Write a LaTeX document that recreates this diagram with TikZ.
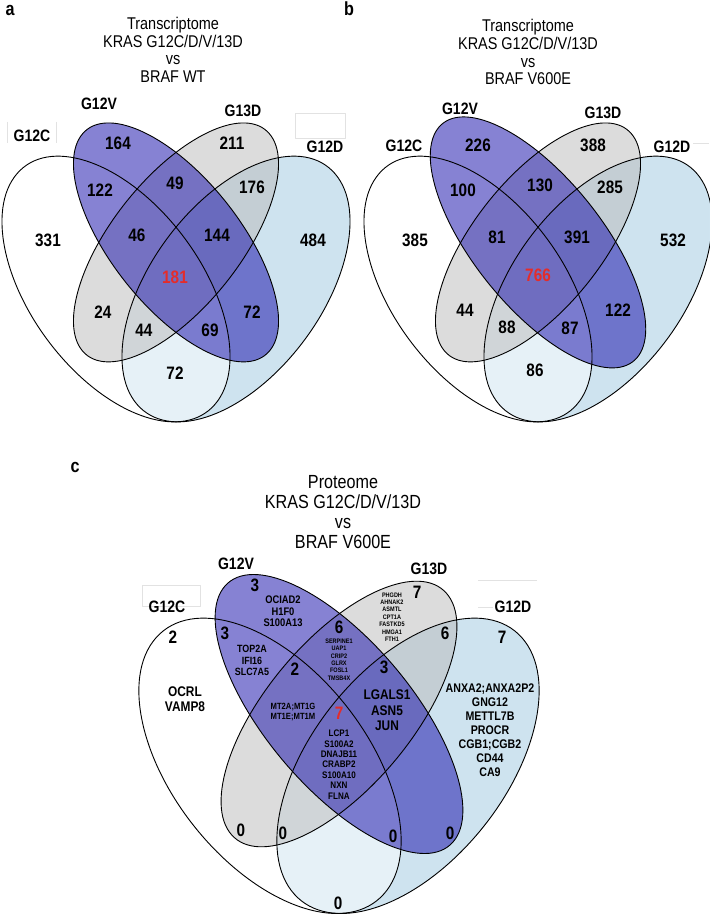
\documentclass[tikz,border=0pt]{standalone}
\usepackage{fontspec}
\usepackage{tikz}
\newfontfamily\narrowsans[FakeStretch=0.85]{Liberation Sans}

\definecolor{setV}{RGB}{15,7,169}
\definecolor{setG}{RGB}{187,187,187}
\definecolor{setD}{RGB}{159,201,225}
\definecolor{coreRed}{RGB}{228,44,42}
\definecolor{ghostline}{RGB}{226,226,226}

\begin{document}
\begin{tikzpicture}[x=1pt,y=1pt,line join=round,
  setfill/.style={fill opacity=0.5},
  setline/.style={draw=black,line width=0.9pt},
  panel/.style={inner sep=0pt,font=\narrowsans\bfseries\fontsize{19}{19}\selectfont},
  title/.style={anchor=north,align=center,inner sep=0pt,font=\narrowsans\fontsize{17}{17.8}\selectfont},
  setname/.style={inner sep=0pt,font=\narrowsans\bfseries\fontsize{16.5}{16.5}\selectfont},
  count/.style={inner sep=0pt,font=\narrowsans\bfseries\fontsize{18}{18}\selectfont},
  core/.style={count,text=coreRed},
  genes/.style 2 args={align=center,inner sep=0pt,font=\narrowsans\bfseries\fontsize{#1}{#2}\selectfont},
  ghost/.style={draw=ghostline,line width=0.6pt}]
\fill[white] (0,0) rectangle (709,-915);
\useasboundingbox (0,0) rectangle (709,-915);

% panel a
\node[panel] (pa) at (10,-10) {a};
\node[title] (ta) at (173,-16.8) {Transcriptome\\KRAS G12C/D/V/13D\\vs\\BRAF WT};
\begin{scope}[shift={(176,-242.4)},xscale=400,yscale=466]
\fill[setD,setfill,rotate around={45:(0.15,-0.1)}] (0.15,-0.1) ellipse [x radius=0.35,y radius=0.2];
\fill[white,setfill,rotate around={135:(-0.15,-0.1)}] (-0.15,-0.1) ellipse [x radius=0.35,y radius=0.2];
\fill[setG,setfill,rotate around={45:(0,0)}] (0,0) ellipse [x radius=0.33,y radius=0.15];
\fill[setV,setfill,rotate around={135:(0,0)}] (0,0) ellipse [x radius=0.33,y radius=0.15];
\draw[setline,rotate around={45:(0.15,-0.1)}] (0.15,-0.1) ellipse [x radius=0.35,y radius=0.2];
\draw[setline,rotate around={135:(-0.15,-0.1)}] (-0.15,-0.1) ellipse [x radius=0.35,y radius=0.2];
\draw[setline,rotate around={45:(0,0)}] (0,0) ellipse [x radius=0.33,y radius=0.15];
\draw[setline,rotate around={135:(0,0)}] (0,0) ellipse [x radius=0.33,y radius=0.15];
\end{scope}
\draw[ghost] (295,-113) rectangle (345,-138);
\draw[ghost] (7,-122) -- (7,-143) (56,-122) -- (56,-143);
\node[setname] (aC) at (32,-136) {G12C};
\node[setname] (aV) at (99,-104) {G12V};
\node[setname] (aG) at (243,-111) {G13D};
\node[setname] (aD) at (325,-147) {G12D};
\node[count] (a164) at (118,-143) {164};
\node[count] (a211) at (232,-143) {211};
\node[count] (a122) at (100,-190) {122};
\node[count] (a49) at (175,-183) {49};
\node[count] (a176) at (252,-187) {176};
\node[count] (a331) at (48,-240) {331};
\node[count] (a46) at (137,-235) {46};
\node[count] (a144) at (217,-235) {144};
\node[count] (a484) at (313,-240) {484};
\node[core] (a181) at (175,-277) {181};
\node[count] (a24) at (103,-312) {24};
\node[count] (a72r) at (252,-312) {72};
\node[count] (a44) at (144,-330) {44};
\node[count] (a69) at (210,-330) {69};
\node[count] (a72b) at (175,-373) {72};

% panel b
\node[panel] (pb) at (349,-9) {b};
\node[title] (tb) at (528,-19) {Transcriptome\\KRAS G12C/D/V/13D\\vs\\BRAF V600E};
\begin{scope}[shift={(538,-242.4)},xscale=400,yscale=466]
\fill[setD,setfill,rotate around={45:(0.15,-0.1)}] (0.15,-0.1) ellipse [x radius=0.35,y radius=0.2];
\fill[white,setfill,rotate around={135:(-0.15,-0.1)}] (-0.15,-0.1) ellipse [x radius=0.35,y radius=0.2];
\fill[setG,setfill,rotate around={45:(0,0)}] (0,0) ellipse [x radius=0.33,y radius=0.15];
\fill[setV,setfill,rotate around={135:(0,0)}] (0,0) ellipse [x radius=0.35,y radius=0.15];
\draw[setline,rotate around={45:(0.15,-0.1)}] (0.15,-0.1) ellipse [x radius=0.35,y radius=0.2];
\draw[setline,rotate around={135:(-0.15,-0.1)}] (-0.15,-0.1) ellipse [x radius=0.35,y radius=0.2];
\draw[setline,rotate around={45:(0,0)}] (0,0) ellipse [x radius=0.33,y radius=0.15];
\draw[setline,rotate around={135:(0,0)}] (0,0) ellipse [x radius=0.35,y radius=0.15];
\end{scope}
\draw[ghost] (693,-143) -- (709,-143);
\node[setname] (bC) at (404,-146) {G12C};
\node[setname] (bV) at (460,-109) {G12V};
\node[setname] (bG) at (603,-113) {G13D};
\node[setname] (bD) at (672,-147) {G12D};
\node[count] (b226) at (478,-145) {226};
\node[count] (b388) at (593,-145) {388};
\node[count] (b100) at (463,-190) {100};
\node[count] (b130) at (540,-185) {130};
\node[count] (b285) at (610,-187) {285};
\node[count] (b385) at (415,-240) {385};
\node[count] (b81) at (497,-237) {81};
\node[count] (b391) at (577,-237) {391};
\node[count] (b532) at (673,-240) {532};
\node[core] (b766) at (538,-275) {766};
\node[count] (b44) at (465,-310) {44};
\node[count] (b88) at (507,-327) {88};
\node[count] (b87) at (570,-328) {87};
\node[count] (b122) at (618,-310) {122};
\node[count] (b86) at (535,-370) {86};

% panel c
\node[panel] (pc) at (75,-467) {c};
\node[title,font=\narrowsans\fontsize{19}{20}\selectfont] (tc) at (343,-475.5) {Proteome\\KRAS G12C/D/V/13D\\vs\\BRAF V600E};
\begin{scope}[shift={(339,-714)},xscale=460,yscale=518]
\fill[setD,setfill,rotate around={45:(0.15,-0.1)}] (0.15,-0.1) ellipse [x radius=0.35,y radius=0.2];
\fill[white,setfill,rotate around={135:(-0.15,-0.1)}] (-0.15,-0.1) ellipse [x radius=0.35,y radius=0.2];
\fill[setG,setfill,rotate around={45:(0,0)}] (0,0) ellipse [x radius=0.33,y radius=0.15];
\fill[setV,setfill,rotate around={135:(0,0)}] (0,0) ellipse [x radius=0.35,y radius=0.15];
\draw[setline,rotate around={45:(0.15,-0.1)}] (0.15,-0.1) ellipse [x radius=0.35,y radius=0.2];
\draw[setline,rotate around={135:(-0.15,-0.1)}] (-0.15,-0.1) ellipse [x radius=0.35,y radius=0.2];
\draw[setline,rotate around={45:(0,0)}] (0,0) ellipse [x radius=0.33,y radius=0.15];
\draw[setline,rotate around={135:(0,0)}] (0,0) ellipse [x radius=0.35,y radius=0.15];
\end{scope}
\draw[ghost] (142,-585) rectangle (200,-606);
\draw[ghost] (478,-580) -- (537,-580) (478,-607) -- (493,-607);
\node[setname] (cC) at (167,-607) {G12C};
\node[setname] (cV) at (236,-564) {G12V};
\node[setname] (cG) at (429,-569) {G13D};
\node[setname] (cD) at (513,-607) {G12D};
\node[count] (cV3) at (255,-585) {3};
\node[genes={11}{11.5}] (cVlist) at (283,-611.5) {OCIAD2\\H1F0\\S100A13};
\node[count] (cG7) at (417,-592) {7};
\node[genes={6.5}{7.4}] (cGlist) at (392,-617) {PHGDH\\AHNAK2\\ASMTL\\CPT1A\\FASTKD5\\HMGA1\\FTH1};
\node[count] (cCV3) at (225,-633) {3};
\node[genes={10.5}{11.5}] (cCVlist) at (252,-660.7) {TOP2A\\IFI16\\SLC7A5};
\node[count] (cVG6) at (339,-627) {6};
\node[genes={6.5}{7.4}] (cVGlist) at (339,-659.5) {SERPINE1\\UAP1\\CRIP2\\GLRX\\FOSL1\\TMSB4X};
\node[count] (cGD6) at (445,-633) {6};
\node[count] (cD7) at (502,-637) {7};
\node[count] (cC2) at (173,-637) {2};
\node[genes={14}{15}] (cClist) at (185,-699.5) {OCRL\\VAMP8};
\node[count] (cCVG2) at (295,-669) {2};
\node[genes={9}{10}] (cCVGlist) at (293,-712) {MT2A;MT1G\\MT1E;MT1M};
\node[count] (cVGD3) at (384,-667) {3};
\node[genes={14}{15.5}] (cVGDlist) at (387,-710.5) {LGALS1\\ASN5\\JUN};
\node[genes={12.5}{14}] (cDlist) at (490,-730) {ANXA2;ANXA2P2\\GNG12\\METTL7B\\PROCR\\CGB1;CGB2\\CD44\\CA9};
\node[core] (call7) at (339,-713) {7};
\node[genes={9.5}{10.4}] (calllist) at (339,-764.5) {LCP1\\S100A2\\DNAJB11\\CRABP2\\S100A10\\NXN\\FLNA};
\node[count] (cCG0) at (241,-830) {0};
\node[count] (cCGD0) at (283,-833) {0};
\node[count] (cCVD0) at (393,-836) {0};
\node[count] (cVD0) at (450,-833) {0};
\node[count] (cCD0) at (338,-903) {0};
\end{tikzpicture}
\end{document}
